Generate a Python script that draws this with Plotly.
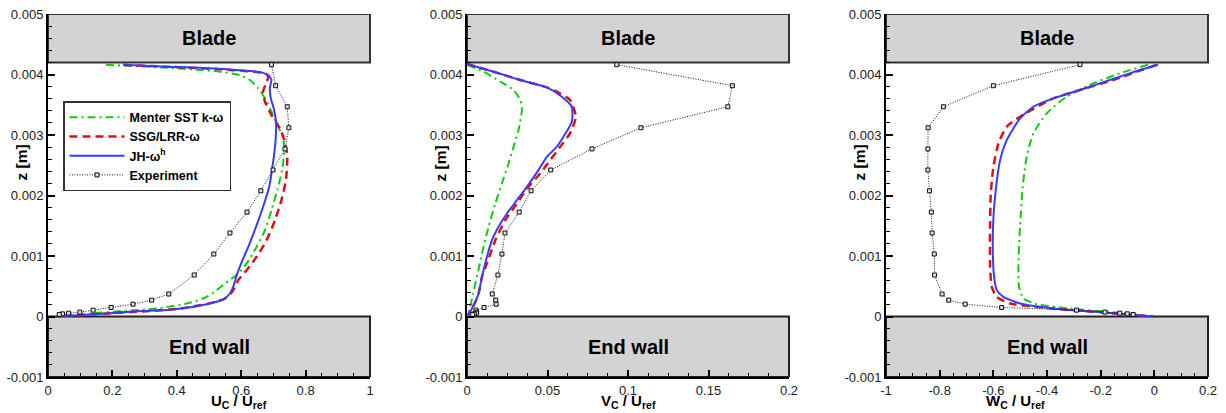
import plotly.graph_objects as go

# ---------------- data ----------------
EXP_Z = [0.004162, 0.003815, 0.003467, 0.003120, 0.002770, 0.002422, 0.002078,
         0.001725, 0.001380, 0.001033, 0.000686, 0.000372, 0.000270, 0.000204,
         0.000149, 0.000105, 0.000072, 0.000055, 0.000044, 0.000033]
EXP_U = [0.694, 0.707, 0.743, 0.748, 0.736, 0.699, 0.661, 0.618, 0.565, 0.515,
         0.454, 0.375, 0.322, 0.264, 0.196, 0.140, 0.099, 0.064, 0.045, 0.035]
EXP_V = [0.093, 0.1648, 0.162, 0.108, 0.0776, 0.052, 0.0398, 0.0324, 0.0236, 0.0217,
         0.0192, 0.0157, 0.0178, 0.0181, 0.0106, 0.0056, 0.0060, 0.0058, 0.0045, 0.0035]
EXP_W = [-0.277, -0.600, -0.786, -0.843, -0.844, -0.844, -0.838, -0.831, -0.828, -0.820,
         -0.819, -0.791, -0.766, -0.705, -0.569, -0.290, -0.184, -0.129, -0.101, -0.079]

# Panel 1 (U)
JH_U = [0.234, 0.368, 0.472, 0.627, 0.663, 0.684, 0.694, 0.692, 0.689, 0.692, 0.701,
        0.708, 0.706, 0.697, 0.687, 0.668, 0.646, 0.622, 0.604, 0.588, 0.575, 0.565,
        0.544, 0.493, 0.389, 0.270, 0.183, 0.080, 0.028]
JH_U_Z = [0.00416, 0.004129, 0.004112, 0.004057, 0.004035, 0.00399, 0.00391, 0.003853,
          0.00377, 0.003606, 0.00344, 0.00322, 0.00286, 0.002475, 0.002145, 0.001814,
          0.001483, 0.001152, 0.000932, 0.000711, 0.000491, 0.00038, 0.000281, 0.000204,
          0.000116, 0.000085, 0.00005, 0.000015, 0.000003]
SSG_U = [0.234, 0.368, 0.523, 0.630, 0.674, 0.684, 0.679, 0.668, 0.674, 0.694, 0.720,
         0.735, 0.743, 0.739, 0.725, 0.705, 0.679, 0.648, 0.617, 0.591, 0.572, 0.550,
         0.500, 0.400, 0.280, 0.183, 0.080, 0.028]
SSG_U_Z = [0.00416, 0.004129, 0.00409, 0.00405, 0.00402, 0.003964, 0.00388, 0.003715,
           0.00355, 0.00333, 0.00311, 0.0029, 0.00264, 0.002255, 0.001924, 0.001593,
           0.001262, 0.000987, 0.000766, 0.000601, 0.000408, 0.000298, 0.000215,
           0.000125, 0.00008, 0.00005, 0.000015, 0.000003]
SST_U = [0.180, 0.369, 0.472, 0.534, 0.596, 0.627, 0.653, 0.674, 0.694, 0.715, 0.730,
         0.734, 0.727, 0.712, 0.694, 0.674, 0.648, 0.617, 0.591, 0.550, 0.520, 0.493,
         0.441, 0.338, 0.234, 0.130, 0.050]
SST_U_Z = [0.00416, 0.004112, 0.004074, 0.004046, 0.00399, 0.00391, 0.00377, 0.003606,
           0.003385, 0.003137, 0.00295, 0.00275, 0.00242, 0.00209, 0.001758, 0.001428,
           0.001152, 0.000877, 0.000711, 0.000546, 0.00042, 0.000325, 0.000226,
           0.000132, 0.000093, 0.00005, 0.00001]

# Panel 2 (V)
JH_V = [0.0, 0.0165, 0.0331, 0.0496, 0.0589, 0.0651, 0.0651, 0.0599, 0.0558, 0.0496,
        0.0444, 0.0372, 0.031, 0.0248, 0.0196, 0.0155, 0.0124, 0.0093, 0.0072, 0.0052,
        0.0031, 0.0004]
JH_V_Z = [0.004173, 0.004046, 0.003909, 0.003787, 0.003633, 0.003467, 0.00322, 0.002971,
          0.002806, 0.00264, 0.00242, 0.002144, 0.001924, 0.001703, 0.001483, 0.001262,
          0.000987, 0.000656, 0.00038, 0.000243, 0.000132, 0.00002]
SSG_V = [0.0, 0.0165, 0.0331, 0.0496, 0.0558, 0.064, 0.0676, 0.064, 0.0579, 0.0517,
         0.0455, 0.0382, 0.031, 0.0238, 0.0176, 0.0124, 0.0093, 0.0072, 0.0052, 0.0031,
         0.0004]
SSG_V_Z = [0.004173, 0.004046, 0.003909, 0.003787, 0.003716, 0.003578, 0.003302,
           0.003027, 0.002806, 0.002585, 0.002365, 0.002144, 0.001869, 0.001593,
           0.001262, 0.000877, 0.000656, 0.00038, 0.000243, 0.000132, 0.00002]
SST_V = [0.0004, 0.0103, 0.0207, 0.0289, 0.0331, 0.0341, 0.032, 0.0289, 0.0258, 0.0217,
         0.0176, 0.0134, 0.0093, 0.0062, 0.0037, 0.0021, 0.0004]
SST_V_Z = [0.004156, 0.004046, 0.003881, 0.003743, 0.003578, 0.003412, 0.003082,
           0.002806, 0.00253, 0.0022, 0.001869, 0.001483, 0.001042, 0.000656, 0.00038,
           0.00016, 0.00002]

# Panel 3 (W)
JH_W = [0.0141, -0.054, -0.1285, -0.2029, -0.2773, -0.3764, -0.4508, -0.5004, -0.55,
        -0.5748, -0.5897, -0.5996, -0.6021, -0.5971, -0.5872, -0.5624, -0.5004, -0.3764,
        -0.1905, -0.0045]
JH_W_Z = [0.004162, 0.004074, 0.003964, 0.003853, 0.003743, 0.003605, 0.003467, 0.003274,
          0.002916, 0.002585, 0.002144, 0.001648, 0.001097, 0.000656, 0.000436, 0.000325,
          0.000215, 0.000132, 0.000066, 0.0]
SSG_W = [0.008, -0.1533, -0.2773, -0.376, -0.5004, -0.55, -0.581, -0.5996, -0.6095,
         -0.612, -0.612, -0.6058, -0.5872, -0.5376, -0.3764, -0.1905, -0.0045]
SSG_W_Z = [0.004162, 0.003909, 0.003743, 0.003605, 0.003302, 0.003137, 0.002861,
           0.002475, 0.002034, 0.001483, 0.000821, 0.000491, 0.000325, 0.000215,
           0.000132, 0.000066, 0.0]
SST_W = [-0.0231, -0.1285, -0.2277, -0.3268, -0.4012, -0.4508, -0.4756, -0.4905,
         -0.5004, -0.5066, -0.5041, -0.488, -0.4384, -0.3144, -0.1285, -0.0045]
SST_W_Z = [0.004162, 0.004019, 0.003853, 0.003633, 0.003357, 0.003026, 0.00264,
           0.002144, 0.001483, 0.000821, 0.000491, 0.000298, 0.000204, 0.000132,
           0.000061, 0.0]

Y_TICKS = [-0.001, 0, 0.001, 0.002, 0.003, 0.004, 0.005]
Y_TICK_TEXT = ["-0.001", "0", "0.001", "0.002", "0.003", "0.004", "0.005"]
X1_TICKS = [0, 0.2, 0.4, 0.6, 0.8, 1]
X1_TEXT = ["0", "0.2", "0.4", "0.6", "0.8", "1"]
X2_TICKS = [0, 0.05, 0.1, 0.15, 0.2]
X2_TEXT = ["0", "0.05", "0.1", "0.15", "0.2"]
X3_TICKS = [-1, -0.8, -0.6, -0.4, -0.2, 0, 0.2]
X3_TEXT = ["-1", "-0.8", "-0.6", "-0.4", "-0.2", "0", "0.2"]
X_TITLES = ["U<sub>C</sub> / U<sub>ref</sub>", "V<sub>C</sub> / U<sub>ref</sub>",
            "W<sub>C</sub> / U<sub>ref</sub>"]
NAMES = ["Menter SST k-ω", "SSG/LRR-ω", "JH-ω<sup>h</sup>", "Experiment"]

# ---------------- styling ----------------
FONT = "Liberation Sans, Arial, sans-serif"
GREEN = "#10cc10"
RED = "#dd1010"
BLUE = "#3a3aff"

fig = go.Figure()

panels = [
    ("x", "y", SST_U, SST_U_Z, SSG_U, SSG_U_Z, JH_U, JH_U_Z, EXP_U),
    ("x2", "y2", SST_V, SST_V_Z, SSG_V, SSG_V_Z, JH_V, JH_V_Z, EXP_V),
    ("x3", "y3", SST_W, SST_W_Z, SSG_W, SSG_W_Z, JH_W, JH_W_Z, EXP_W),
]
for i, (xa, ya, sx, sz, rx, rz, bx, bz, ex) in enumerate(panels):
    show = i == 0
    fig.add_trace(go.Scatter(x=sx, y=sz, xaxis=xa, yaxis=ya, mode="lines", name=NAMES[0],
                             showlegend=show, legendgroup="a",
                             line=dict(color=GREEN, width=2, dash="8px,4px,2px,4px",
                                       shape="spline", smoothing=0.6)))
    fig.add_trace(go.Scatter(x=rx, y=rz, xaxis=xa, yaxis=ya, mode="lines", name=NAMES[1],
                             showlegend=show, legendgroup="b",
                             line=dict(color=RED, width=2.5, dash="8px,5px",
                                       shape="spline", smoothing=0.6)))
    fig.add_trace(go.Scatter(x=bx, y=bz, xaxis=xa, yaxis=ya, mode="lines", name=NAMES[2],
                             showlegend=show, legendgroup="c",
                             line=dict(color=BLUE, width=2,
                                       shape="spline", smoothing=0.6)))
    fig.add_trace(go.Scatter(x=ex, y=EXP_Z, xaxis=xa, yaxis=ya, mode="lines+markers",
                             name=NAMES[3], showlegend=show, legendgroup="d",
                             line=dict(color="#111", width=1, dash="1px,1.5px"),
                             marker=dict(symbol="square", size=4, color="#ddd",
                                         line=dict(color="#111", width=1))))

ML, MR, MT, MB = 48, 18, 14, 36
W, H = 1226, 413
pw = W - ML - MR
ph = H - MT - MB
doms = [(0.0, 322 / pw), ((467 - ML) / pw, (789 - ML) / pw), ((886 - ML) / pw, 1.0)]
xranges = [[0, 1], [0, 0.2], [-1, 0.2]]
xticks = [(X1_TICKS, X1_TEXT, 0.05), (X2_TICKS, X2_TEXT, 0.0125), (X3_TICKS, X3_TEXT, 0.05)]

axis_common = dict(showline=True, linecolor="#000", linewidth=2, mirror=False,
                   ticks="inside", ticklen=7, tickwidth=1.5, tickcolor="#000",
                   showgrid=False, zeroline=False, tickmode="array", automargin=False,
                   tickfont=dict(family=FONT, size=13, color="#222"))

layout = dict(width=W, height=H, margin=dict(l=ML, r=MR, t=MT, b=MB, autoexpand=False),
              plot_bgcolor="white", paper_bgcolor="white",
              font=dict(family=FONT, color="#111"))
shapes = []
annotations = []
for i in range(3):
    sfx = "" if i == 0 else str(i + 1)
    tv, tt, mdt = xticks[i]
    layout["xaxis" + sfx] = dict(axis_common, domain=list(doms[i]), range=xranges[i],
                                 tickvals=tv, ticktext=tt, anchor="y" + sfx,
                                 minor=dict(dtick=mdt, tick0=xranges[i][0], ticks="inside",
                                            ticklen=4, tickwidth=1.2, tickcolor="#000"))
    layout["yaxis" + sfx] = dict(axis_common, domain=[0, 1], range=[-0.001, 0.005],
                                 tickvals=Y_TICKS, ticktext=Y_TICK_TEXT, anchor="x" + sfx,
                                 minor=dict(dtick=0.0002, tick0=0, ticks="inside",
                                            ticklen=4, tickwidth=1.2, tickcolor="#000"))
    xr = "x" + sfx + " domain"
    yr = "y" + sfx
    shapes.append(dict(type="rect", xref=xr, yref=yr, x0=0, x1=1, y0=0.0042, y1=0.005,
                       fillcolor="#d3d3d3", line=dict(color="#333", width=2), layer="below"))
    shapes.append(dict(type="rect", xref=xr, yref=yr, x0=0, x1=1, y0=-0.001, y1=0,
                       fillcolor="#d3d3d3", line=dict(color="#222", width=2), layer="below"))
    annotations.append(dict(text="<b>Blade</b>", xref=xr, yref=yr, x=0.5, y=0.0046,
                            showarrow=False, font=dict(family=FONT, size=20, color="#000")))
    annotations.append(dict(text="<b>End wall</b>", xref=xr, yref=yr, x=0.5, y=-0.0005,
                            showarrow=False, font=dict(family=FONT, size=20, color="#000")))
    cx = (doms[i][0] + doms[i][1]) / 2
    annotations.append(dict(text="<b>" + X_TITLES[i] + "</b>", xref="paper", yref="paper",
                            x=cx, y=-13 / ph, yanchor="top",
                            showarrow=False, font=dict(family=FONT, size=15, color="#000")))
    annotations.append(dict(text="<b>z [m]</b>", xref="paper", yref="paper",
                            x=doms[i][0] - 27.5 / pw, y=(377 - 163) / ph,
                            xanchor="center", yanchor="middle", textangle=-90,
                            showarrow=False, font=dict(family=FONT, size=15.5, color="#000")))

layout["shapes"] = shapes
layout["annotations"] = annotations
layout["legend"] = dict(x=(63 - ML) / pw, y=(377 - 101) / ph,
                        xanchor="left", yanchor="top", bgcolor="white",
                        bordercolor="#333", borderwidth=1.5, itemwidth=55,
                        font=dict(family=FONT, size=12.5, color="#000", weight="bold"),
                        tracegroupgap=0)
fig.update_layout(**layout)
fig.write_html("out.html")
